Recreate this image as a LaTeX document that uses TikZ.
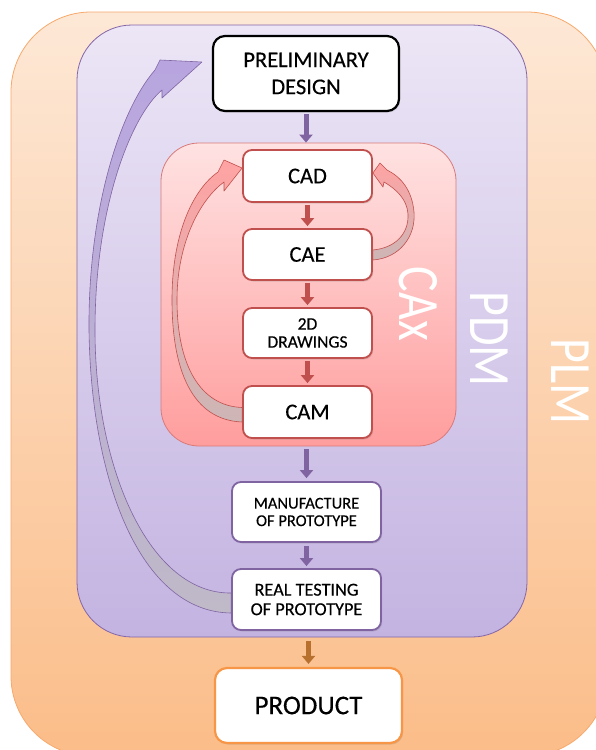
\documentclass[tikz,border=0pt]{standalone}
\usepackage{fontspec}
\setmainfont{Carlito}
\newfontfamily\boxfont{Carlito}[FakeBold=0.35]
\usetikzlibrary{arrows.meta,calc,shadows}
\definecolor{plmtop}{HTML}{FDE8D6}
\definecolor{plmbot}{HTML}{FBBD89}
\definecolor{plmline}{HTML}{F7A96C}
\definecolor{pdmtop}{HTML}{ECE6F6}
\definecolor{pdmbot}{HTML}{C3B3E1}
\definecolor{pdmline}{HTML}{8466A8}
\definecolor{caxtop}{HTML}{FFE2E2}
\definecolor{caxbot}{HTML}{FF9D9D}
\definecolor{caxline}{HTML}{D97A7A}
\definecolor{redline}{HTML}{C0504D}
\definecolor{purpline}{HTML}{8064A2}
\definecolor{orangeline}{HTML}{F79646}
\definecolor{brownarrow}{HTML}{B8702E}
\definecolor{bigtop}{HTML}{B8A5E0}
\definecolor{bigbot}{HTML}{BFB9C8}
\definecolor{redtop}{HTML}{FFA3A3}
\definecolor{redbot}{HTML}{CDB6B6}
\pgfdeclarelayer{bg}
\pgfdeclarelayer{mid}
\pgfsetlayers{bg,mid,main}
\begin{document}
\begin{tikzpicture}[x=1pt,y=-1pt,
  container/.style={draw, inner sep=0pt, line width=0.8pt},
  box/.style={draw, fill=white, rounded corners=9pt, inner sep=0pt, align=center,
    text=black, drop shadow={shadow xshift=1.2pt, shadow yshift=-1.5pt, opacity=0.25}},
  redbox/.style={box, draw=redline, line width=1.8pt, minimum width=129pt,
    font=\boxfont\fontsize{22.5}{24}\selectfont},
  purpbox/.style={box, draw=purpline, line width=1.8pt, minimum width=149pt,
    minimum height=60pt},
  blockarrow/.style={line width=5pt, -{Triangle[width=13pt,length=8pt]}},
  biglabel/.style={rotate=-90, text=white, font=\fontsize{48}{48}\selectfont, inner sep=0pt},
  bigcurve/.style={top color=bigtop, bottom color=bigbot, draw=purpline, line width=0.6pt, line join=round},
  redcurve/.style={top color=redtop, bottom color=redbot, draw=redline, line width=0.6pt, line join=round}]
\useasboundingbox (0,0) rectangle (596,750);

\begin{pgfonlayer}{bg}
\clip (0,0) rectangle (596,750);
\fill[white] (0,0) rectangle (596,750);
\node[container, draw=plmline, top color=plmtop, bottom color=plmbot, rounded corners=80pt,
  minimum width=596pt, minimum height=744pt] (plm) at (309,384) {};
\node[container, draw=pdmline, top color=pdmtop, bottom color=pdmbot, rounded corners=55pt,
  minimum width=450pt, minimum height=612pt] (pdm) at (302,331) {};
\node[container, draw=caxline, top color=caxtop, bottom color=caxbot, rounded corners=38pt,
  minimum width=295pt, minimum height=303pt] (cax) at (308.5,294.5) {};
\end{pgfonlayer}

% labels
\node[biglabel] (caxlabel) at (418,304) {\scalebox{1}[1.22]{CAx}};
\node[biglabel] (pdmlabel) at (489,339) {\scalebox{1}[1.22]{PDM}};
\node[biglabel] (plmlabel) at (570,382) {\scalebox{1}[1.22]{PLM}};

% boxes
\node[box, draw=black, line width=2.2pt, rounded corners=12pt, minimum width=186pt,
  minimum height=75pt, font=\boxfont\fontsize{22.5}{27}\selectfont] (pd) at (306,73.5)
  {PRELIMINARY\\DESIGN};
\node[redbox, minimum height=52pt] (cad) at (307.5,176) {CAD};
\node[redbox, minimum height=51pt] (cae) at (307.5,254.5) {CAE};
\node[redbox, minimum height=50pt, font=\boxfont\fontsize{17.5}{18}\selectfont] (dwg) at (307.5,333) {2D\\DRAWINGS};
\node[redbox, minimum height=52pt] (cam) at (307.5,412) {CAM};
\node[purpbox, font=\boxfont\fontsize{16.5}{17.5}\selectfont] (manu) at (306.5,512) {MANUFACTURE\\OF PROTOTYPE};
\node[purpbox, minimum height=61pt, font=\boxfont\fontsize{18.3}{19.5}\selectfont] (real) at (306.5,599.5) {REAL TESTING\\OF PROTOTYPE};
\node[box, draw=orangeline, line width=2.2pt, rounded corners=12pt, minimum width=187pt,
  minimum height=75pt, font=\boxfont\fontsize{27}{30}\selectfont] (product) at (308.5,705.5) {PRODUCT};

% straight arrows
\draw[blockarrow, purpline, shorten <=2pt] (pd.south) -- (pd.south |- cax.north);
\draw[blockarrow, redline, shorten <=2pt, shorten >=2pt] (cad.south) -- (cae.north);
\draw[blockarrow, redline, shorten <=2pt, shorten >=2pt] (cae.south) -- (dwg.north);
\draw[blockarrow, redline, shorten <=2pt, shorten >=2pt] (dwg.south) -- (cam.north);
\draw[blockarrow, purpline, shorten <=3pt, shorten >=3pt] (manu.north |- cax.south) -- (manu.north);
\draw[blockarrow, purpline, shorten <=3pt, shorten >=2pt] (manu.south) -- (real.north);
\draw[blockarrow, brownarrow, shorten <=4pt, shorten >=3pt] (product.north |- pdm.south) -- (product.north);

% curved feedback arrows
\begin{pgfonlayer}{mid}
\path[bigcurve] ([yshift=-13.5pt]real.west) .. controls (140,612) and (91,480) .. (89,330)
  .. controls (88,210) and (120,110) .. (155,70) -- (160,60) -- ([xshift=-10pt,yshift=11.5pt]pd.west)
  -- (162,98) -- (162,90) .. controls (132,115) and (95,205) .. (95,330)
  .. controls (95,470) and (150,594) .. ([yshift=6.5pt]real.west) -- cycle;
\path[redcurve] ([yshift=-10pt]cam.west) .. controls (192,420) and (172,370) .. (172,300)
  .. controls (172,230) and (195,188) .. (218,172) -- (224,160) -- ([yshift=8pt]cad.west)
  -- (224,191) -- (224,182) .. controls (202,198) and (177,240) .. (177,300)
  .. controls (177,365) and (200,406) .. ([yshift=4.5pt]cam.west) -- cycle;
\path[redcurve] ([yshift=-5.5pt]cae.east) .. controls (400,258) and (416,236) .. (414,212)
  .. controls (412,190) and (401,177) .. (387,170) -- (380,163) -- ([yshift=3pt]cad.east)
  -- (383,187) -- (384,182) .. controls (396,189) and (407,199) .. (408,214)
  .. controls (409,234) and (395,248) .. ([yshift=4.5pt]cae.east) -- cycle;
\end{pgfonlayer}
\end{tikzpicture}
\end{document}
